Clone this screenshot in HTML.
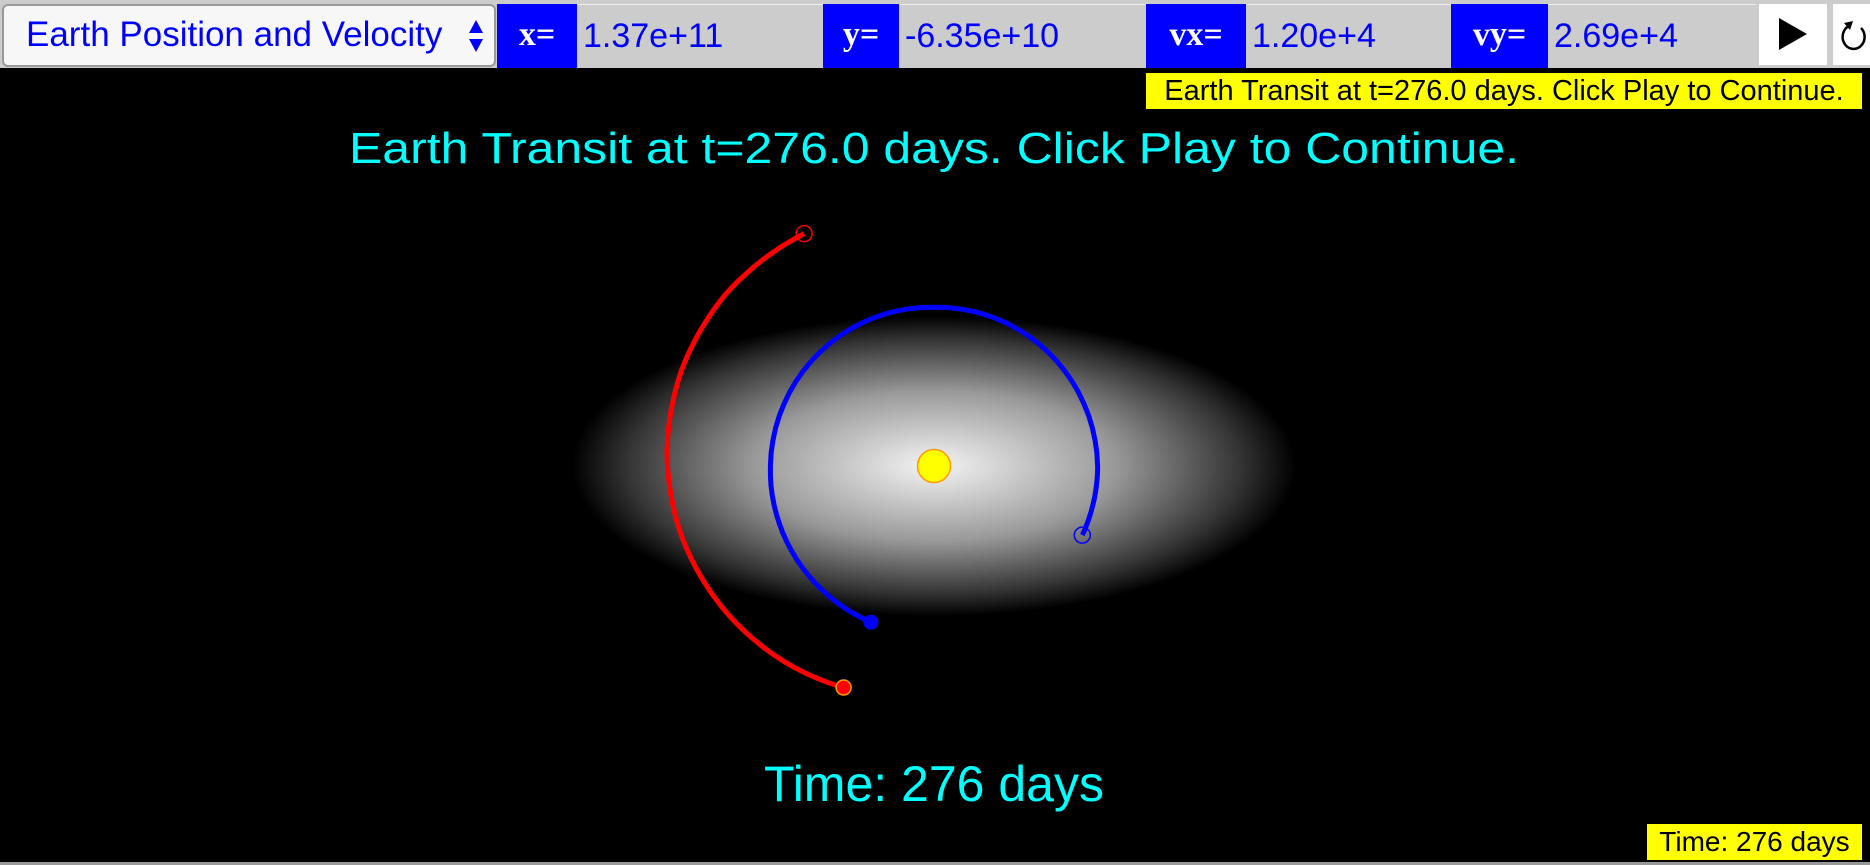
<!DOCTYPE html>
<html><head><meta charset="utf-8"><style>
html,body{margin:0;padding:0;background:#fff;width:1870px;height:865px;overflow:hidden;font-family:"Liberation Sans",sans-serif}
#bar{position:absolute;left:0;top:0;width:1870px;height:68px;background:#ccc}
.b{position:absolute;top:4px;height:64px;box-sizing:border-box}
.lab{background:#00f;color:#fff;font-family:"Liberation Serif",serif;font-weight:bold;font-size:34px;line-height:62px;text-align:center}
.val{background:#ccc;color:#00f;font-size:34px;line-height:62px;padding-left:6px;border-top:1px solid #eee}
#sel{position:absolute;left:2px;top:4px;width:494px;height:63px;box-sizing:border-box;background:#f7f7f7;border:2px solid #999;border-radius:6px;color:#00f;font-size:35px;line-height:58px;padding-left:22px;white-space:nowrap}
#sel .arr{position:absolute;right:10px;top:12px;width:16px;height:36px}
#canvas{position:absolute;left:0;top:68px;width:1870px;height:797px}
.tip{position:absolute;background:#ff0;border:1px solid #000;color:#000;font-size:27px;white-space:nowrap;box-sizing:border-box;text-align:center}
</style></head><body>
<div id="bar">
 <div id="sel">Earth Position and Velocity
  <svg class="arr" viewBox="0 0 16 36"><polygon points="8,2 15,15 1,15" fill="#00f"/><polygon points="8,34 15,21 1,21" fill="#00f"/></svg></div>
 <div class="b lab" style="left:497px;width:80px">x=</div>
 <div class="b val" style="left:577px;width:246px">1.37e+11</div>
 <div class="b lab" style="left:823px;width:76px">y=</div>
 <div class="b val" style="left:899px;width:247px">-6.35e+10</div>
 <div class="b lab" style="left:1146px;width:100px">vx=</div>
 <div class="b val" style="left:1246px;width:205px">1.20e+4</div>
 <div class="b lab" style="left:1451px;width:97px">vy=</div>
 <div class="b val" style="left:1548px;width:208px">2.69e+4</div>
 <div class="b" style="left:1759px;width:68px;height:61px;background:#fff">
  <svg width="68" height="61"><polygon points="20,14 48,30 20,46" fill="#000"/></svg></div>
 <div class="b" style="left:1833px;width:37px;height:61px;background:#fff">
  <svg width="37" height="61"><path d="M16,22 A11,12 0 1 0 28,24" fill="none" stroke="#000" stroke-width="2.5"/><polygon points="11,19 20,17 17,26" fill="#000"/></svg></div>
</div>
<svg id="canvas" width="1870" height="797" viewBox="0 68 1870 797">
 <defs><radialGradient id="g" cx="0.5" cy="0.5" r="0.5"><stop offset="0" stop-color="#f4f4f4"/><stop offset="0.5" stop-color="#999"/><stop offset="0.85" stop-color="#333"/><stop offset="1" stop-color="#000"/></radialGradient></defs>
 <rect x="0" y="68" width="1870" height="797" fill="#000"/>
 <rect x="0" y="862" width="1870" height="3" fill="#999"/>
 <ellipse cx="934" cy="466" rx="362" ry="150" fill="url(#g)"/>
 <text x="934" y="163" text-anchor="middle" fill="#0ff" font-size="44" textLength="1170" lengthAdjust="spacingAndGlyphs" font-family="Liberation Sans, sans-serif">Earth Transit at t=276.0 days. Click Play to Continue.</text>
 <text x="934" y="801" text-anchor="middle" fill="#0ff" font-size="50" textLength="340" lengthAdjust="spacingAndGlyphs" font-family="Liberation Sans, sans-serif">Time: 276 days</text>
 <g id="orbits"></g>
 <circle cx="934" cy="466" r="16.5" fill="#ff0" stroke="#f90" stroke-width="1.5"/>
</svg>
<div class="tip" style="left:1145px;top:72px;width:718px;height:38px;line-height:36px;font-size:29px">Earth Transit at t=276.0 days. Click Play to Continue.</div>
<div class="tip" style="left:1646px;top:823px;width:217px;height:38px;line-height:36px;font-size:28px">Time: 276 days</div>
<script>
// angles in degrees (counter-clockwise, y up), radii in AU
const earthAngles=[-25,0,90,180,248];
const earthR=[1.01,1.01,0.98,1.01,1.04];
const marsAngles=[119.2,141.0,159.1,177.2,195.6,214.4,233.8,247.8];
const marsR=[1.643,1.667,1.667,1.650,1.617,1.570,1.517,1.477];
const CX=934, CY=466, PXAU=162;
const sx=(a,r)=>CX+r*PXAU*Math.cos(a*Math.PI/180);
const sy=(a,r)=>CY-r*PXAU*Math.sin(a*Math.PI/180);
const NS='http://www.w3.org/2000/svg';
const g=document.getElementById('orbits');
function track(A,R,color,name){
  let pts=[];
  for(let i=0;i<A.length-1;i++){
    for(let k=0;k<20;k++){const t=k/20;const a=A[i]+(A[i+1]-A[i])*t;const r=R[i]+(R[i+1]-R[i])*t;pts.push(sx(a,r).toFixed(1)+','+sy(a,r).toFixed(1));}
  }
  const n=A.length-1;pts.push(sx(A[n],R[n]).toFixed(1)+','+sy(A[n],R[n]).toFixed(1));
  const p=document.createElementNS(NS,'polyline');
  p.setAttribute('points',pts.join(' '));p.setAttribute('fill','none');p.setAttribute('stroke',color);p.setAttribute('stroke-width','5');p.setAttribute('stroke-linejoin','round');
  
  
  g.appendChild(p);
  const s=document.createElementNS(NS,'circle');
  s.setAttribute('cx',sx(A[0],R[0]));s.setAttribute('cy',sy(A[0],R[0]));s.setAttribute('r','8');s.setAttribute('fill','none');s.setAttribute('stroke',color);s.setAttribute('stroke-width','1.5');
  
  
  g.appendChild(s);
  const e=document.createElementNS(NS,'circle');
  e.setAttribute('cx',sx(A[n],R[n]));e.setAttribute('cy',sy(A[n],R[n]));e.setAttribute('r','7.5');e.setAttribute('fill',color);
  if(color==='#f00'){e.setAttribute('stroke','#f90');e.setAttribute('stroke-width','1.5');}
  
  
  g.appendChild(e);
}
track(marsAngles,marsR,'#f00','mars');
track(earthAngles,earthR,'#00f','earth');
</script>
</body></html>
